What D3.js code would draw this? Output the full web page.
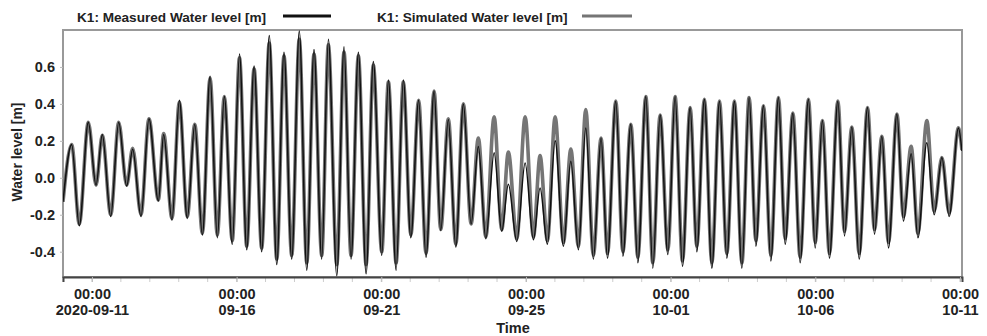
<!DOCTYPE html>
<html>
<head>
<meta charset="utf-8">
<script src="https://cdn.jsdelivr.net/npm/d3@7"></script>
<style>
  body { margin: 0; background: #fff; }
  text { font-family: "Liberation Sans", Arial, sans-serif; font-weight: bold; }
</style>
</head>
<body>
<script>
// tide extrema, hours after 2020-09-10 00:00
var tideHours = [0, 7.2, 13.5, 21.0, 27.4, 32.6, 39.6, 46.2, 52.8, 57.8, 64.7, 71.3, 79.1, 83.5, 90.4, 96.5, 103.1, 109.3, 115.6, 122.0,
  128.0, 133.8, 140.4, 146.4, 152.4, 158.5, 164.8, 171.1, 177.3, 183.3, 189.7, 196.0, 202.2, 208.2, 214.6, 220.1, 227.1, 233.1, 238.9, 245.0,
  251.4, 257.4, 264.4, 269.9, 276.3, 282.3, 288.5, 295.0, 301.1, 307.8, 313.3, 319.6, 325.8, 332.1, 338.5, 344.5, 350.7, 357.6, 363.9, 369.4,
  376.4, 383.3, 390.2, 395.7, 401.8, 408.2, 415.1, 421.2, 427.5, 433.6, 439.9, 446.3, 451.6, 458.5, 464.4, 471.0, 476.8, 483.4, 489.2, 495.3,
  501.7, 507.7, 513.8, 520.2, 525.7, 532.0, 538.2, 544.5, 550.6, 556.9, 563.1, 569.1, 574.7, 581.0, 587.1, 593.4, 599.0, 605.4, 611.4, 618.3,
  623.9, 629.9, 635.7, 642.7, 648.2, 654.3, 660.4, 667.3, 673.1, 679.2, 684.7, 691.7, 697.1, 703.5, 709.1, 716.5, 722.6, 729.0, 735.0, 742.7, 745.6];

var measured = [-0.13, 0.18, -0.26, 0.30, -0.04, 0.235, -0.21, 0.30, -0.045, 0.155, -0.21, 0.32, -0.125, 0.235, -0.23, 0.42, -0.22, 0.29, -0.31, 0.55,
  -0.325, 0.44, -0.36, 0.67, -0.39, 0.605, -0.40, 0.77, -0.47, 0.68, -0.44, 0.795, -0.50, 0.695, -0.44, 0.75, -0.53, 0.71, -0.44, 0.68,
  -0.52, 0.63, -0.42, 0.53, -0.50, 0.53, -0.325, 0.42, -0.43, 0.47, -0.285, 0.315, -0.375, 0.40, -0.25, 0.17, -0.33, 0.135, -0.29, -0.035,
  -0.345, 0.08, -0.335, -0.055, -0.36, 0.20, -0.37, 0.09, -0.39, 0.27, -0.44, 0.215, -0.435, 0.415, -0.425, 0.29, -0.46, 0.44, -0.49, 0.34,
  -0.415, 0.44, -0.48, 0.38, -0.40, 0.425, -0.49, 0.415, -0.435, 0.415, -0.49, 0.435, -0.37, 0.39, -0.45, 0.435, -0.36, 0.35, -0.46, 0.425,
  -0.38, 0.31, -0.435, 0.415, -0.315, 0.275, -0.44, 0.38, -0.305, 0.225, -0.38, 0.345, -0.235, 0.13, -0.325, 0.19, -0.20, 0.11, -0.21, 0.27, 0.145];

var simulated = [-0.13, 0.18, -0.25, 0.30, -0.04, 0.23, -0.20, 0.30, -0.04, 0.16, -0.20, 0.32, -0.12, 0.24, -0.22, 0.41, -0.21, 0.29, -0.30, 0.54,
  -0.31, 0.44, -0.34, 0.65, -0.37, 0.59, -0.38, 0.73, -0.44, 0.66, -0.42, 0.75, -0.46, 0.67, -0.42, 0.72, -0.47, 0.68, -0.42, 0.66,
  -0.47, 0.61, -0.40, 0.52, -0.46, 0.52, -0.31, 0.42, -0.41, 0.47, -0.28, 0.32, -0.36, 0.40, -0.25, 0.215, -0.32, 0.33, -0.28, 0.14,
  -0.33, 0.33, -0.32, 0.12, -0.34, 0.33, -0.35, 0.155, -0.37, 0.37, -0.42, 0.215, -0.41, 0.415, -0.40, 0.29, -0.43, 0.44, -0.46, 0.34,
  -0.39, 0.44, -0.45, 0.38, -0.37, 0.425, -0.46, 0.415, -0.41, 0.415, -0.46, 0.435, -0.34, 0.39, -0.42, 0.435, -0.33, 0.35, -0.43, 0.425,
  -0.35, 0.31, -0.41, 0.415, -0.29, 0.275, -0.41, 0.38, -0.28, 0.225, -0.35, 0.345, -0.21, 0.17, -0.30, 0.31, -0.18, 0.11, -0.19, 0.27, 0.15];

var xTickDates = ["2020-09-11", "2020-09-16", "2020-09-21", "2020-09-26", "2020-10-01", "2020-10-06", "2020-10-11"];
var xTickLabels = ["2020-09-11", "09-16", "09-21", "09-25", "10-01", "10-06", "10-11"];
var yTicks = [-0.4, -0.2, 0.0, 0.2, 0.4, 0.6];

var width = 987, height = 336;
var plotLeft = 63, plotRight = 962, plotTop = 30, plotBottom = 277;

var t0 = new Date(2020, 8, 10, 0, 0);
function hourDate(h) { return new Date(t0.getTime() + h * 3600000); }
function parseDay(s) { var p = s.split("-"); return new Date(+p[0], +p[1] - 1, +p[2]); }

var svg = d3.select("body").append("svg").attr("width", width).attr("height", height);

var x = d3.scaleTime().domain([t0, new Date(2020, 9, 11, 1, 40)]).range([plotLeft, plotRight]);
var y = d3.scaleLinear().domain([-0.537, 0.80]).range([plotBottom, plotTop]);

// frame
svg.append("rect")
  .attr("x", plotLeft).attr("y", plotTop)
  .attr("width", plotRight - plotLeft).attr("height", plotBottom - plotTop)
  .attr("fill", "none").attr("stroke", "#999").attr("stroke-width", 2);

// daily minor ticks under the x axis
var days = d3.timeDay.range(t0, new Date(2020, 9, 11, 1));
svg.selectAll("line.dayTick")
  .data(days)
  .enter().append("line")
  .attr("class", "dayTick")
  .attr("x1", function(d) { return x(d); })
  .attr("x2", function(d) { return x(d); })
  .attr("y1", plotBottom + 1).attr("y2", plotBottom + 5)
  .attr("stroke", "#ccc").attr("stroke-width", 1);

// x axis
var xAxis = d3.axisBottom(x)
  .tickValues(xTickDates.map(parseDay))
  .tickFormat(function(d, i) { return xTickLabels[i]; })
  .tickSize(5);
var gx = svg.append("g").attr("transform", "translate(0," + plotBottom + ")").call(xAxis);
gx.select(".domain").attr("stroke", "#444").attr("stroke-width", 2);
gx.selectAll(".tick line").attr("stroke", "#bbb");
gx.selectAll(".tick text").each(function(d, i) {
  var t = d3.select(this);
  t.text(null).attr("y", null).attr("dy", null).attr("fill", "#222").attr("font-size", 14.5);
  t.append("tspan").attr("x", 0).attr("y", 22).text("00:00");
  t.append("tspan").attr("x", 0).attr("y", 38).text(xTickLabels[i]);
});

// y axis
var yAxis = d3.axisLeft(y)
  .tickValues(yTicks)
  .tickFormat(function(d) { return d.toFixed(1); })
  .tickSize(3);
var gy = svg.append("g").attr("transform", "translate(" + plotLeft + ",0)").call(yAxis);
gy.select(".domain").remove();
gy.selectAll(".tick line").attr("stroke", "#bbb");
gy.selectAll(".tick text").attr("x", -8).attr("fill", "#222").attr("font-size", 14.5);

// axis titles
svg.append("text")
  .attr("transform", "translate(22,152) rotate(-90)")
  .attr("text-anchor", "middle")
  .attr("font-size", 14).attr("fill", "#222")
  .text("Water level [m]");
svg.append("text")
  .attr("x", 513).attr("y", 333)
  .attr("text-anchor", "middle")
  .attr("font-size", 14.5).attr("fill", "#222")
  .text("Time");

// series
var line = d3.line()
  .x(function(d) { return x(hourDate(d[0])); })
  .y(function(d) { return y(d[1]); })
  .curve(d3.curveMonotoneX);

svg.append("clipPath").attr("id", "plotClip").append("rect")
  .attr("x", plotLeft).attr("y", plotTop).attr("width", plotRight - plotLeft).attr("height", plotBottom - plotTop);

svg.append("path")
  .datum(d3.zip(tideHours, simulated))
  .attr("clip-path", "url(#plotClip)")
  .attr("d", line)
  .attr("fill", "none").attr("stroke", "#757575").attr("stroke-width", 3.6);

svg.append("path")
  .datum(d3.zip(tideHours, measured))
  .attr("clip-path", "url(#plotClip)")
  .attr("d", line)
  .attr("fill", "none").attr("stroke", "#111").attr("stroke-width", 1.5);

// legend
var legend = [
  {label: "K1: Measured Water level [m]", tx: 77, x1: 283, x2: 331, color: "#111"},
  {label: "K1: Simulated Water level [m]", tx: 377, x1: 582, x2: 632, color: "#757575"}
];
svg.selectAll("text.legend")
  .data(legend)
  .enter().append("text")
  .attr("class", "legend")
  .attr("x", function(d) { return d.tx; })
  .attr("y", 22)
  .attr("font-size", 13.6).attr("fill", "#222")
  .text(function(d) { return d.label; });
svg.selectAll("line.legend")
  .data(legend)
  .enter().append("line")
  .attr("class", "legend")
  .attr("x1", function(d) { return d.x1; })
  .attr("x2", function(d) { return d.x2; })
  .attr("y1", 16).attr("y2", 16)
  .attr("stroke", function(d) { return d.color; })
  .attr("stroke-width", 3);
</script>
</body>
</html>
